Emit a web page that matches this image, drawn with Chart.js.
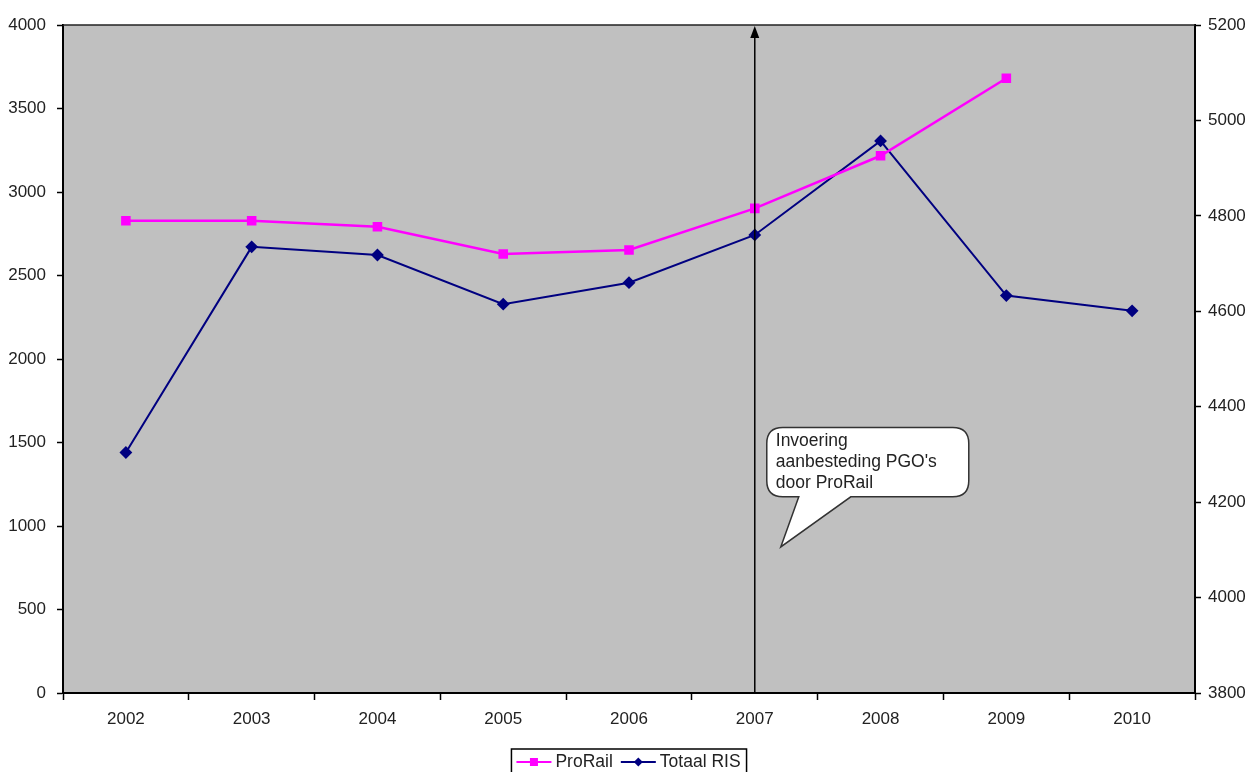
<!DOCTYPE html>
<html><head><meta charset="utf-8">
<script src="https://cdn.jsdelivr.net/npm/chart.js@4.4.0/dist/chart.umd.min.js"></script>
<style>html,body{margin:0;padding:0;background:#fff}#wrap{width:1253px;height:772px;position:relative}</style>
</head><body><div id="wrap"><canvas id="c"></canvas></div>
<script>
const years = ['2002','2003','2004','2005','2006','2007','2008','2009','2010'];
const proRail = [2828, 2828, 2792, 2629, 2653, 2902, 3217, 3681, null];
const totaalRIS = [4304, 4735, 4718, 4615, 4660, 4760, 4957, 4633, 4601];
const leftAxis = [0, 4000, 500];
const rightAxis = [3800, 5200, 200];
const markerYear = '2007';
const calloutLines = ['Invoering', "aanbesteding PGO's", 'door ProRail'];
const seriesNames = ['ProRail', 'Totaal RIS'];
const FONT = "'Liberation Sans', Arial, sans-serif";

const decor = {
  id: 'decor',
  beforeDraw(chart) {
    const {ctx, chartArea: a} = chart;
    ctx.save();
    ctx.fillStyle = '#c0c0c0';
    ctx.fillRect(a.left, a.top, a.right - a.left, a.bottom - a.top);
    ctx.restore();
  },
  afterDraw(chart) {
    const {ctx, chartArea: a, scales} = chart;
    ctx.save();
    ctx.strokeStyle = '#222'; ctx.lineWidth = 1.5;
    ctx.beginPath(); ctx.moveTo(a.left, a.top); ctx.lineTo(a.right, a.top); ctx.stroke();
    const ax = scales.x.getPixelForValue(years.indexOf(markerYear));
    ctx.strokeStyle = '#000'; ctx.lineWidth = 1.5;
    ctx.beginPath(); ctx.moveTo(ax, a.bottom); ctx.lineTo(ax, a.top + 10); ctx.stroke();
    ctx.fillStyle = '#000';
    ctx.beginPath(); ctx.moveTo(ax, a.top + 1); ctx.lineTo(ax - 4.5, a.top + 13); ctx.lineTo(ax + 4.5, a.top + 13); ctx.closePath(); ctx.fill();
    const y = scales.y;
    const bl = ax + 12, br = ax + 214, bt = y.getPixelForValue(1590), bb = y.getPixelForValue(1175);
    const tip = {x: ax + 26, y: y.getPixelForValue(875)};
    const r = 16;
    ctx.beginPath();
    ctx.moveTo(bl + r, bt);
    ctx.lineTo(br - r, bt); ctx.quadraticCurveTo(br, bt, br, bt + r);
    ctx.lineTo(br, bb - r); ctx.quadraticCurveTo(br, bb, br - r, bb);
    ctx.lineTo(ax + 96, bb); ctx.lineTo(tip.x, tip.y); ctx.lineTo(ax + 44, bb);
    ctx.lineTo(bl + r, bb); ctx.quadraticCurveTo(bl, bb, bl, bb - r);
    ctx.lineTo(bl, bt + r); ctx.quadraticCurveTo(bl, bt, bl + r, bt);
    ctx.closePath();
    ctx.fillStyle = '#fff'; ctx.fill();
    ctx.strokeStyle = '#333'; ctx.lineWidth = 1.5; ctx.stroke();
    ctx.fillStyle = '#222'; ctx.font = '17.5px ' + FONT; ctx.textBaseline = 'middle'; ctx.textAlign = 'left';
    calloutLines.forEach((t, i) => ctx.fillText(t, bl + 9, bt + 14 + i * 21));
    ctx.font = '17.5px ' + FONT;
    const seg = 35, gap = 4, itemGap = 8;
    const w0 = ctx.measureText(seriesNames[0]).width, w1 = ctx.measureText(seriesNames[1]).width;
    const total = 5 + seg + gap + w0 + itemGap + seg + gap + w1 + 6;
    const cx = (a.left + a.right) / 2;
    const lx = cx - total / 2, ly = 749, cy = 762;
    ctx.fillStyle = '#fff'; ctx.fillRect(lx, ly, total, 30);
    ctx.strokeStyle = '#000'; ctx.lineWidth = 1.5; ctx.strokeRect(lx, ly, total, 30);
    let x = lx + 5;
    const items = [{c: '#ff00ff', shape: 'rect', w: w0}, {c: '#000080', shape: 'diamond', w: w1}];
    items.forEach((it, i) => {
      ctx.strokeStyle = it.c; ctx.lineWidth = 2;
      ctx.beginPath(); ctx.moveTo(x, cy); ctx.lineTo(x + seg, cy); ctx.stroke();
      ctx.fillStyle = it.c;
      const mx = x + seg / 2;
      if (it.shape === 'rect') ctx.fillRect(mx - 4, cy - 4, 8, 8);
      else { ctx.beginPath(); ctx.moveTo(mx, cy - 4.5); ctx.lineTo(mx + 4.5, cy); ctx.lineTo(mx, cy + 4.5); ctx.lineTo(mx - 4.5, cy); ctx.closePath(); ctx.fill(); }
      ctx.fillStyle = '#222';
      ctx.fillText(seriesNames[i], x + seg + gap, cy);
      x += seg + gap + it.w + itemGap;
    });
    ctx.restore();
  }
};

const plain = v => String(v);

new Chart(document.getElementById('c'), {
  type: 'line',
  data: {
    labels: years,
    datasets: [
      {label: seriesNames[0], data: proRail, yAxisID: 'y', borderColor: '#ff00ff', backgroundColor: '#ff00ff',
       borderWidth: 2.5, pointStyle: 'rect', pointRadius: 5, pointHoverRadius: 5, tension: 0, fill: false, spanGaps: false},
      {label: seriesNames[1], data: totaalRIS, yAxisID: 'y2', borderColor: '#000080', backgroundColor: '#000080',
       borderWidth: 2, pointStyle: 'rectRot', pointRadius: 5, pointHoverRadius: 5, tension: 0, fill: false}
    ]
  },
  options: {
    responsive: true, maintainAspectRatio: false, animation: false, devicePixelRatio: 1,
    layout: {padding: {top: 25, left: 0, right: 0, bottom: 0}},
    plugins: {legend: {display: false}, tooltip: {enabled: false}},
    scales: {
      x: {
        offset: true,
        grid: {offset: true, drawOnChartArea: false, tickLength: 7, tickColor: '#000', tickWidth: 1.5},
        border: {color: '#000', width: 2},
        ticks: {color: '#222', font: {family: FONT, size: 17}, padding: 9, maxRotation: 0},
        afterFit(s) { s.height = 79; }
      },
      y: {
        position: 'left', min: leftAxis[0], max: leftAxis[1],
        ticks: {stepSize: leftAxis[2], color: '#222', font: {family: FONT, size: 17}, padding: 11, callback: plain},
        grid: {drawOnChartArea: false, tickLength: 6, tickColor: '#000', tickWidth: 1.5},
        border: {color: '#000', width: 2},
        afterFit(s) { s.width = 63; }
      },
      y2: {
        position: 'right', min: rightAxis[0], max: rightAxis[1],
        ticks: {stepSize: rightAxis[2], color: '#222', font: {family: FONT, size: 17}, padding: 7, callback: plain},
        grid: {drawOnChartArea: false, tickLength: 6, tickColor: '#000', tickWidth: 1.5},
        border: {color: '#000', width: 2},
        afterFit(s) { s.width = 58; }
      }
    }
  },
  plugins: [decor]
});
</script></body></html>
